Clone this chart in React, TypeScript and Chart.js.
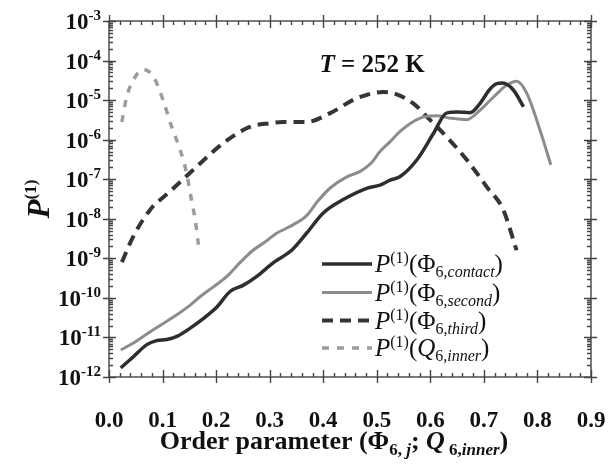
import { useEffect, useRef } from 'react';
import { Chart, registerables } from 'chart.js';

Chart.register(...registerables);

// ---- data ----
const contactX = [0.022, 0.045, 0.070, 0.089, 0.108, 0.129, 0.151, 0.176, 0.201, 0.226, 0.251, 0.276, 0.307, 0.341, 0.370, 0.400, 0.440, 0.481, 0.506, 0.525, 0.543, 0.575, 0.606, 0.630, 0.650, 0.674, 0.693, 0.710, 0.724, 0.735, 0.755, 0.774];
const contactY = [1.7e-12, 3.2e-12, 6.5e-12, 8.3e-12, 8.9e-12, 1.1e-11, 1.7e-11, 3.0e-11, 5.8e-11, 1.45e-10, 2.1e-10, 3.5e-10, 7.8e-10, 1.6e-9, 4.5e-9, 1.4e-8, 3.2e-8, 5.9e-8, 7.1e-8, 9.5e-8, 1.15e-7, 3.1e-7, 1.45e-6, 4.7e-6, 5.0e-6, 4.8e-6, 8.3e-6, 1.8e-5, 2.6e-5, 2.7e-5, 1.8e-5, 6.8e-6];

const secondX = [0.022, 0.050, 0.077, 0.100, 0.126, 0.150, 0.170, 0.195, 0.220, 0.245, 0.269, 0.290, 0.313, 0.340, 0.369, 0.390, 0.413, 0.444, 0.470, 0.490, 0.506, 0.525, 0.543, 0.581, 0.612, 0.637, 0.668, 0.693, 0.718, 0.743, 0.761, 0.780, 0.805, 0.825];
const secondY = [4.8e-12, 7.9e-12, 1.4e-11, 2.2e-11, 3.7e-11, 6.3e-11, 1.07e-10, 1.9e-10, 3.5e-10, 7.9e-10, 1.6e-9, 2.5e-9, 4.3e-9, 6.6e-9, 1.2e-8, 2.8e-8, 6.0e-8, 1.15e-7, 1.6e-7, 2.6e-7, 5.0e-7, 8.9e-7, 1.6e-6, 3.5e-6, 4.0e-6, 3.5e-6, 3.2e-6, 5.6e-6, 1.2e-5, 2.4e-5, 3.0e-5, 1.5e-5, 1.7e-6, 2.3e-7];

const thirdX = [0.024, 0.045, 0.077, 0.114, 0.164, 0.213, 0.263, 0.300, 0.325, 0.369, 0.413, 0.462, 0.512, 0.531, 0.568, 0.599, 0.630, 0.668, 0.705, 0.736, 0.761];
const thirdY = [8.0e-10, 3.5e-9, 1.7e-8, 4.9e-8, 2.1e-7, 8.1e-7, 2.1e-6, 2.6e-6, 2.8e-6, 2.8e-6, 4.7e-6, 1.1e-5, 1.6e-5, 1.5e-5, 8.3e-6, 3.2e-6, 1.2e-6, 3.1e-7, 6.5e-8, 1.7e-8, 1.6e-9];

const innerX = [0.024, 0.033, 0.049, 0.064, 0.083, 0.101, 0.117, 0.133, 0.145, 0.154, 0.161, 0.167];
const innerY = [2.8e-6, 1.2e-5, 3.9e-5, 6.0e-5, 3.9e-5, 1.0e-5, 2.1e-6, 5.5e-7, 1.4e-7, 3.0e-8, 9.3e-9, 2.2e-9];

const xTickValues = [0, 0.1, 0.2, 0.3, 0.4, 0.5, 0.6, 0.7, 0.8, 0.9];
const xTickLabels = ['0.0', '0.1', '0.2', '0.3', '0.4', '0.5', '0.6', '0.7', '0.8', '0.9'];
const yExponents = [-3, -4, -5, -6, -7, -8, -9, -10, -11, -12];
const yTickLabels = ['-3', '-4', '-5', '-6', '-7', '-8', '-9', '-10', '-11', '-12'];
const legendSubs = ['contact', 'second', 'third', 'inner'];
const legendSymbols = ['Φ', 'Φ', 'Φ', 'Q'];
const tempLabel = '252 K';

const FONT = '"Liberation Serif", "Times New Roman", Times, serif';

type Run = { t: string; size: number; italic?: boolean; bold?: boolean; dy?: number };

function setFont(ctx: CanvasRenderingContext2D, r: Run) {
  ctx.font = `${r.italic ? 'italic ' : ''}${r.bold ? 'bold ' : ''}${r.size}px ${FONT}`;
}
function runsWidth(ctx: CanvasRenderingContext2D, runs: Run[]) {
  let w = 0;
  for (const r of runs) {
    setFont(ctx, r);
    w += ctx.measureText(r.t).width;
  }
  return w;
}
function drawRuns(ctx: CanvasRenderingContext2D, runs: Run[], x: number, y: number) {
  let cx = x;
  ctx.textAlign = 'left';
  ctx.textBaseline = 'alphabetic';
  for (const r of runs) {
    setFont(ctx, r);
    ctx.fillText(r.t, cx, y + (r.dy || 0));
    cx += ctx.measureText(r.t).width;
  }
}

const styles = [
  { color: '#2e2e2e', width: 3.5, dash: [] as number[] },
  { color: '#8c8c8c', width: 3, dash: [] as number[] },
  { color: '#353535', width: 4, dash: [11, 7] },
  { color: '#9c9c9c', width: 3.5, dash: [7, 8] },
];

const decorPlugin = {
  id: 'decor',
  afterDraw(chart: any) {
    const ctx: CanvasRenderingContext2D = chart.ctx;
    const { left, right, top, bottom } = chart.chartArea;
    const xs = chart.scales.x;
    const ys = chart.scales.y;
    ctx.save();
    ctx.fillStyle = '#111';
    ctx.strokeStyle = '#444';
    ctx.lineWidth = 1.4;
    ctx.setLineDash([]);
    ctx.strokeRect(left, top, right - left, bottom - top);

    ctx.beginPath();
    // x ticks
    for (let i = 0; i < xTickValues.length; i++) {
      const px = Math.round(xs.getPixelForValue(xTickValues[i])) + 0.5;
      ctx.moveTo(px, bottom + 6); ctx.lineTo(px, bottom - 7);
      ctx.moveTo(px, top - 6); ctx.lineTo(px, top + 7);
      if (i < xTickValues.length - 1) {
        const step = (xTickValues[i + 1] - xTickValues[i]) / 5;
        for (let k = 1; k < 5; k++) {
          const mx = Math.round(xs.getPixelForValue(xTickValues[i] + k * step)) + 0.5;
          ctx.moveTo(mx, bottom); ctx.lineTo(mx, bottom - 4);
          ctx.moveTo(mx, top); ctx.lineTo(mx, top + 4);
        }
      }
    }
    // y ticks (major + log minors)
    for (let i = 0; i < yExponents.length; i++) {
      const e = yExponents[i];
      const py = Math.round(ys.getPixelForValue(Math.pow(10, e))) + 0.5;
      ctx.moveTo(left - 6, py); ctx.lineTo(left + 7, py);
      ctx.moveTo(right + 6, py); ctx.lineTo(right - 7, py);
      if (i > 0) {
        for (let m = 2; m <= 9; m++) {
          const my = Math.round(ys.getPixelForValue(m * Math.pow(10, e))) + 0.5;
          ctx.moveTo(left, my); ctx.lineTo(left + 4, my);
          ctx.moveTo(right, my); ctx.lineTo(right - 4, my);
        }
      }
    }
    ctx.stroke();

    // x tick labels
    for (let i = 0; i < xTickValues.length; i++) {
      const px = xs.getPixelForValue(xTickValues[i]);
      ctx.font = `bold 23px ${FONT}`;
      ctx.textAlign = 'center';
      ctx.textBaseline = 'alphabetic';
      ctx.fillText(xTickLabels[i], px, 427);
    }
    // y tick labels
    for (let i = 0; i < yExponents.length; i++) {
      const py = ys.getPixelForValue(Math.pow(10, yExponents[i]));
      const runs: Run[] = [
        { t: '10', size: 23, bold: true },
        { t: yTickLabels[i], size: 15, bold: true, dy: -9 },
      ];
      const w = runsWidth(ctx, runs);
      drawRuns(ctx, runs, 101 - w, py + 8);
    }

    // x axis title
    const xt: Run[] = [
      { t: 'Order parameter (', size: 26, bold: true },
      { t: 'Φ', size: 26, bold: true },
      { t: '6, ', size: 17, bold: true, dy: 6 },
      { t: 'j', size: 17, bold: true, italic: true, dy: 6 },
      { t: '; ', size: 26, bold: true },
      { t: 'Q', size: 26, bold: true, italic: true },
      { t: ' 6,', size: 17, bold: true, dy: 6 },
      { t: 'inner', size: 17, bold: true, italic: true, dy: 6 },
      { t: ')', size: 26, bold: true },
    ];
    const xtw = runsWidth(ctx, xt);
    drawRuns(ctx, xt, 334 - xtw / 2, 449);

    // y axis title (rotated)
    ctx.save();
    ctx.translate(49, 199);
    ctx.rotate(-Math.PI / 2);
    const yt: Run[] = [
      { t: 'P', size: 31, bold: true, italic: true },
      { t: '(1)', size: 17, bold: true, dy: -13 },
    ];
    const ytw = runsWidth(ctx, yt);
    drawRuns(ctx, yt, -ytw / 2, 0);
    ctx.restore();

    // temperature annotation
    const tr: Run[] = [
      { t: 'T', size: 25, bold: true, italic: true },
      { t: ' = ' + tempLabel, size: 25, bold: true },
    ];
    const trw = runsWidth(ctx, tr);
    drawRuns(ctx, tr, 372 - trw / 2, 72);

    // legend
    const rowY = [264, 292.5, 320.5, 348];
    for (let i = 0; i < 4; i++) {
      const s = styles[i];
      ctx.beginPath();
      ctx.strokeStyle = s.color;
      ctx.lineWidth = s.width;
      ctx.setLineDash(s.dash);
      ctx.moveTo(322, rowY[i]);
      ctx.lineTo(372, rowY[i]);
      ctx.stroke();
      ctx.setLineDash([]);
      const runs: Run[] = [
        { t: 'P', size: 25, italic: true },
        { t: '(1)', size: 16, dy: -9 },
        { t: '(', size: 25 },
        { t: legendSymbols[i], size: 25, italic: legendSymbols[i] === 'Q' },
        { t: '6,', size: 16, dy: 5 },
        { t: legendSubs[i], size: 16, italic: true, dy: 5 },
        { t: ')', size: 25 },
      ];
      drawRuns(ctx, runs, 375, rowY[i] + 8);
    }
    ctx.restore();
  },
};

export default function App() {
  const ref = useRef<HTMLCanvasElement>(null);
  useEffect(() => {
    document.body.style.margin = '0';
    const canvas = ref.current!;
    const series = [
      [contactX, contactY],
      [secondX, secondY],
      [thirdX, thirdY],
      [innerX, innerY],
    ];
    const chart = new Chart(canvas, {
      type: 'line',
      data: {
        datasets: series.map(([xv, yv], i) => ({
          label: ['contact', 'second', 'third', 'inner'][i],
          data: xv.map((x, j) => ({ x, y: yv[j] })),
          borderColor: styles[i].color,
          borderWidth: styles[i].width,
          borderDash: styles[i].dash,
          pointRadius: 0,
          fill: false,
          tension: 0.4,
          cubicInterpolationMode: 'monotone' as const,
        })),
      },
      options: {
        responsive: false,
        animation: false,
        devicePixelRatio: 1,
        events: [],
        layout: { padding: { left: 0, right: 18, top: 21, bottom: 0 } },
        plugins: { legend: { display: false }, tooltip: { enabled: false }, title: { display: false } },
        scales: {
          x: {
            type: 'linear',
            min: 0,
            max: 0.9,
            grid: { display: false },
            border: { display: false },
            ticks: { display: false },
            afterFit: (s: any) => { s.height = 91; },
          },
          y: {
            type: 'logarithmic',
            min: 1e-12,
            max: 1e-3,
            grid: { display: false },
            border: { display: false },
            ticks: { display: false },
            afterFit: (s: any) => { s.width = 109; },
          },
        },
      },
      plugins: [decorPlugin],
    } as any);
    return () => chart.destroy();
  }, []);
  return (
    <div style={{ width: 609, height: 468 }}>
      <canvas ref={ref} width={609} height={468} style={{ display: 'block', width: 609, height: 468 }} />
    </div>
  );
}
